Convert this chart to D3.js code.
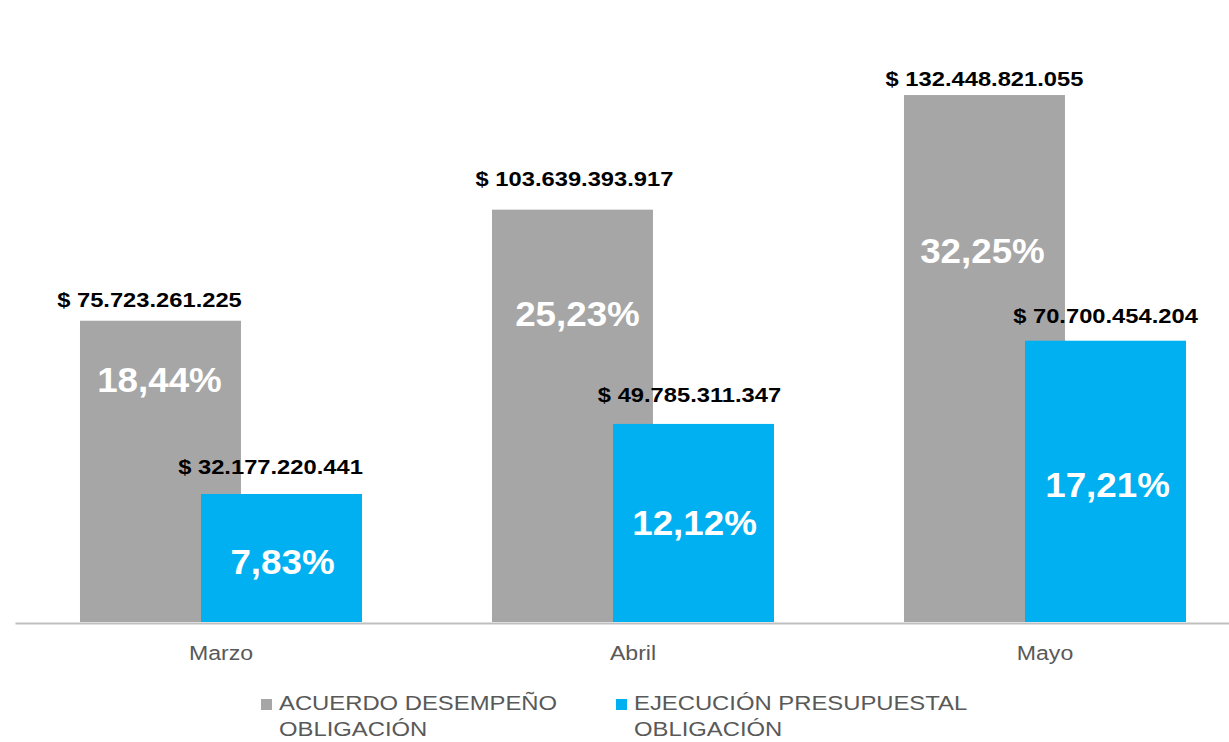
<!DOCTYPE html>
<html lang="es">
<head>
    <meta charset="utf-8">
    <title>Acuerdo desempeño vs ejecución presupuestal</title>
    <script src="https://d3js.org/d3.v7.min.js"></script>
    <style>
        body{
            margin: 0;
            background: #fff;
        }
        svg text{
            font-family: "Liberation Sans", Arial, Helvetica, sans-serif;
        }
        .valueLabel{
            font-size: 21px;
            font-weight: bold;
            fill: #000;
        }
        .pctLabel{
            font-size: 35px;
            font-weight: bold;
            fill: #fff;
        }
        .axis text{
            font-size: 21px;
            fill: #595959;
        }
        .legend text{
            font-size: 21px;
            fill: #595959;
        }
    </style>
</head>
<body>
    <div id="chart"></div>

    <script>

    // data
    var months = ["Marzo", "Abril", "Mayo"]
    var seriesNames = ["ACUERDO DESEMPEÑO OBLIGACIÓN", "EJECUCIÓN PRESUPUESTAL OBLIGACIÓN"]
    var acuerdo = [75723261225, 103639393917, 132448821055]
    var ejecucion = [32177220441, 49785311347, 70700454204]
    var acuerdoPct = ["18,44%", "25,23%", "32,25%"]
    var ejecucionPct = ["7,83%", "12,12%", "17,21%"]
    var colors = ["#a6a6a6", "#00b0f0"]

    // hand placed label nudges (the labels were moved around in the original)
    // [dx, gap above bar top] for amounts, [dx, drop below bar top] for percentages
    var amountNudge = [[[-11, 14], [2, 24], [0, 9]], [[-11, 20], [-4, 22], [0, 18]]]
    var pctNudge = [[[-1, 71], [5, 116], [-2, 168]], [[1, 80], [1, 111], [2, 156]]]

    var width = 1229
    var height = 742

    var svg = d3.select("#chart")
      .append("svg")
        .attr("width", width)
        .attr("height", height)

    var rows = []
    months.forEach(function(m, i){
        rows.push({month: m, s: 0, value: acuerdo[i], pct: acuerdoPct[i], i: i})
        rows.push({month: m, s: 1, value: ejecucion[i], pct: ejecucionPct[i], i: i})
    })

    var x = d3.scaleBand()
        .domain(months)
        .range([15, 1251])
        .paddingInner(0.3155)
        .paddingOuter(0.15775)

    // the two bars of a month overlap, hence the negative padding
    var xs = d3.scaleBand()
        .domain([0, 1])
        .range([0, x.bandwidth()])
        .paddingInner(-0.33)

    var y = d3.scaleLinear()
        .domain([0, 140e9])
        .range([622, 65])

    // bars
    svg.append("g")
      .selectAll("rect")
      .data(rows)
      .enter()
      .append("rect")
        .attr("x", d => x(d.month) + xs(d.s))
        .attr("y", d => y(d.value))
        .attr("width", xs.bandwidth())
        .attr("height", d => y(0) - y(d.value))
        .style("fill", d => colors[d.s])

    // x axis
    var axis = svg.append("g")
        .attr("class", "axis")
        .attr("transform", "translate(0,623)")
        .call(d3.axisBottom(x).tickSize(0).tickSizeOuter(0))

    axis.select(".domain")
        .attr("stroke", "#bfbfbf")
        .attr("stroke-width", 2)

    axis.selectAll("text")
        .attr("y", 37)
        .attr("dy", 0)
        .attr("transform", "scale(1.1,1)")

    var fmt = d3.formatLocale({decimal: ",", thousands: ".", grouping: [3], currency: ["$ ", ""]}).format("$,.0f")

    function barCenter(d){ return x(d.month) + xs(d.s) + xs.bandwidth() / 2 }

    // amount labels above the bars
    svg.append("g")
      .selectAll("text")
      .data(rows)
      .enter()
      .append("text")
        .attr("class", "valueLabel")
        .attr("text-anchor", "middle")
        .attr("transform", d => "translate(" + (barCenter(d) + amountNudge[d.s][d.i][0]) + "," + (y(d.value) - amountNudge[d.s][d.i][1]) + ") scale(1.13,1)")
        .text(d => fmt(d.value))

    // percentages inside the bars
    svg.append("g")
      .selectAll("text")
      .data(rows)
      .enter()
      .append("text")
        .attr("class", "pctLabel")
        .attr("text-anchor", "middle")
        .attr("transform", d => "translate(" + (barCenter(d) + pctNudge[d.s][d.i][0]) + "," + (y(d.value) + pctNudge[d.s][d.i][1]) + ") scale(1.05,1)")
        .text(d => d.pct)

    // legend
    var legendX = [261, 616]
    var legend = svg.append("g")
        .attr("class", "legend")
      .selectAll("g")
      .data(seriesNames)
      .enter()
      .append("g")
        .attr("transform", (d, i) => "translate(" + legendX[i] + ",699)")

    legend.append("rect")
        .attr("width", 11)
        .attr("height", 11)
        .style("fill", (d, i) => colors[i])

    var legendText = legend.append("text")
        .attr("transform", "translate(18,11) scale(1.135,1)")

    legendText.append("tspan")
        .attr("x", 0)
        .text(d => d.split(" ").slice(0, 2).join(" "))

    legendText.append("tspan")
        .attr("x", 0)
        .attr("dy", 26)
        .text(d => d.split(" ").slice(2).join(" "))

    </script>
</body>
</html>
